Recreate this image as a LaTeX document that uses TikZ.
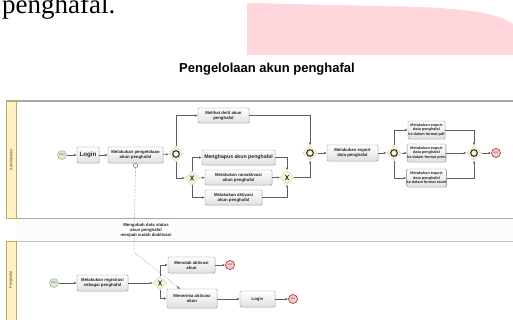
\documentclass[tikz,border=0pt]{standalone}
\usepackage{fontspec}
\setmainfont{Liberation Sans}
\newfontfamily\seriffam{Liberation Serif}
\usetikzlibrary{shapes.geometric,arrows.meta,shadows,calc}

\definecolor{lnc}{HTML}{5E5E5E}
\definecolor{boxb}{HTML}{8C8C8C}
\definecolor{hdrfill}{HTML}{FFF1C2}
\definecolor{hdrline}{HTML}{BFA866}
\definecolor{pinkbg}{HTML}{FFD6DB}
\definecolor{gwfill}{HTML}{F7F2DA}
\definecolor{gwline}{HTML}{D8CEA2}
\definecolor{startfill}{HTML}{DDEBD3}
\definecolor{startline}{HTML}{8FA88A}
\definecolor{endfill}{HTML}{F6C9CB}
\definecolor{endline}{HTML}{B0404A}
\definecolor{poolline}{HTML}{A8A8A8}

\begin{document}
\begin{tikzpicture}[x=1pt,y=-1pt,
  task/.style={draw=boxb, line width=0.4pt, rounded corners=1.2pt, top color=white, bottom color=gray!24,
    drop shadow={opacity=0.25,shadow xshift=0.7pt,shadow yshift=-0.7pt},
    align=center, inner sep=0pt, text=black!85, font=\fontsize{4.3}{5}\selectfont\bfseries},
  bigtask/.style={task, font=\fontsize{5.2}{6}\selectfont\bfseries},
  smalltask/.style={task, font=\fontsize{3.8}{4.6}\selectfont\bfseries},
  gwO/.style={diamond, draw=gwline, fill=gwfill, line width=0.3pt, minimum size=15pt, inner sep=0pt,
    path picture={\draw[line width=1.1pt, black!80] (path picture bounding box.center) circle (3.3);}},
  gwX/.style={diamond, draw=gwline, fill=gwfill, line width=0.3pt, minimum size=14pt, inner sep=0pt,
    path picture={\draw[line width=0.8pt, black!80]
      ([shift={(-1.6pt,-2.4pt)}]path picture bounding box.center) -- ([shift={(1.6pt,2.4pt)}]path picture bounding box.center)
      ([shift={(-1.6pt,2.4pt)}]path picture bounding box.center) -- ([shift={(1.6pt,-2.4pt)}]path picture bounding box.center);}},
  startev/.style={circle, draw=startline, fill=startfill, line width=0.4pt, minimum size=9pt, inner sep=0pt,
    font=\fontsize{2.4}{3}\selectfont, text=black!70},
  endev/.style={circle, draw=endline, fill=endfill, line width=0.7pt, minimum size=9pt, inner sep=0pt,
    font=\fontsize{2.4}{3}\selectfont, text=black!70},
  flow/.style={draw=lnc, line width=0.45pt, -{Latex[length=2.6pt,width=2.2pt]}},
  msg/.style={draw=lnc, line width=0.4pt, densely dotted},
  lanelbl/.style={rotate=90, font=\fontsize{3.6}{4}\selectfont, text=black!80},
]
\useasboundingbox (0,0) rectangle (513,320);

% --- top page fragments ---
\fill[pinkbg] (247,3) -- (420,7) .. controls (470,9) and (500,14) .. (513,24) -- (513,55) -- (247,55) -- cycle;
\node[anchor=base west, inner sep=0pt, font=\seriffam\fontsize{27}{27}\selectfont] (frag) at (2,14) {penghafal.};

% --- title ---
\node[font=\fontsize{13}{14}\selectfont\bfseries] (title) at (267,69) {Pengelolaan akun penghafal};

% --- pools ---
\fill[gray!3] (16,218) rectangle (515,241);
\draw[poolline, line width=0.5pt, fill=white] (6,101) rectangle (515,218);
\draw[poolline, line width=1pt] (6,101) -- (515,101);
\draw[hdrline, fill=hdrfill, line width=0.5pt] (6,101) rectangle (16,218);
\node[lanelbl] (lane1) at (11,159.5) {Administrator};

\draw[poolline!70, line width=0.5pt, fill=white] (6,241) rectangle (515,322);
\draw[hdrline, fill=hdrfill, line width=0.5pt] (6,241) rectangle (16,322);
\node[lanelbl] (lane2) at (11,280) {Penghafal};

% --- pool 1 nodes ---
\node[startev] (s1) at (62,155) {Start};
\node[bigtask, minimum width=22pt, minimum height=16pt, font=\fontsize{6.2}{7}\selectfont\bfseries] (login1) at (88,155) {Login};
\node[task, minimum width=55pt, minimum height=16pt] (kelola) at (135.5,155) {Melakukan pengelolaan\\akun penghafal};
\node[gwO] (g1) at (176,154) {};
\node[task, minimum width=51pt, minimum height=15pt] (detil) at (223.5,115.5) {Melihat detil akun\\penghafal};
\node[gwX] (gx1) at (192,178) {};
\node[bigtask, minimum width=73pt, minimum height=15pt] (hapus) at (238.5,157.5) {Menghapus akun penghafal};
\node[task, minimum width=67pt, minimum height=15pt] (nonakt) at (238.5,177.5) {Melakukan nonaktivasi\\akun penghafal};
\node[task, minimum width=57pt, minimum height=15pt] (akt) at (233.5,197.5) {Melakukan aktivasi\\akun penghafal};
\node[gwX] (gx2) at (287,177.5) {};
\node[gwO] (g2) at (310,153) {};
\node[task, minimum width=51pt, minimum height=16pt] (export) at (352.5,153) {Melakukan export\\data penghafal};
\node[gwO] (g3) at (394,153) {};
\node[smalltask, minimum width=37pt, minimum height=18pt] (pdf) at (426.5,130) {Melakukan export\\data penghafal\\ke dalam format pdf};
\node[smalltask, minimum width=37pt, minimum height=18pt] (print) at (426.5,153) {Melakukan export\\data penghafal\\ke dalam format print};
\node[smalltask, minimum width=37pt, minimum height=18pt] (excel) at (426.5,178) {Melakukan export\\data penghafal\\ke dalam format excel};
\node[gwO] (g4) at (474,153) {};
\node[endev] (e1) at (496,153) {End};

% --- pool 1 flows ---
\draw[flow] (s1) -- (login1);
\draw[flow] (login1) -- (kelola);
\draw[flow] (kelola) -- (g1);
\draw[flow] (g1.north) |- (detil.west);
\draw[flow] (g1.south) |- (gx1.west);
\draw[flow] (gx1.north) |- (hapus.west);
\draw[flow] (gx1.east) -- (nonakt.west);
\draw[flow] (gx1.south) |- (akt.west);
\draw[flow] (hapus.east) -| (gx2.north);
\draw[flow] (nonakt.east) -- (gx2.west);
\draw[flow] (akt.east) -| (gx2.south);
\draw[flow] (gx2.east) -| (g2.south);
\draw[flow] (detil.east) -| (g2.north);
\draw[flow] (g2) -- (export);
\draw[flow] (export) -- (g3);
\draw[flow] (g3.north) |- (pdf.west);
\draw[flow] (g3.east) -- (print.west);
\draw[flow] (g3.south) |- (excel.west);
\draw[flow] (pdf.east) -| (g4.north);
\draw[flow] (print.east) -- (g4.west);
\draw[flow] (excel.east) -| (g4.south);
\draw[flow] (g4) -- (e1);

% --- pool 2 nodes ---
\node[startev] (s2) at (54,283) {Start};
\node[task, minimum width=51pt, minimum height=16pt] (reg) at (102.5,283) {Melakukan registrasi\\sebagai penghafal};
\node[gwX] (gx3) at (160,283) {};
\node[task, minimum width=47pt, minimum height=16pt] (tolak) at (191.5,265) {Menolak aktivasi\\akun};
\node[endev] (e2) at (230,265) {End};
\node[task, minimum width=50pt, minimum height=19pt] (terima) at (192,298.5) {Menerima aktivasi\\akun};
\node[task, minimum width=35pt, minimum height=16pt] (login2) at (257.5,299) {Login};
\node[endev] (e3) at (293,299) {End};

% --- pool 2 flows ---
\draw[flow] (s2) -- (reg);
\draw[flow] (reg) -- (gx3);
\draw[flow] (gx3.north) |- (tolak.west);
\draw[flow] (gx3.south) |- (terima.west);
\draw[flow] (tolak) -- (e2);
\draw[flow] (terima.east |- login2.west) -- (login2.west);
\draw[flow] (login2) -- (e3);

% --- message flow with annotation ---
\coordinate (mbend) at (134,252);
\coordinate (mend) at ([xshift=13pt]terima.north west);
\draw[msg] ([yshift=-2.4pt]kelola.south) -- (mbend) -- (mend);
\draw[lnc, line width=0.4pt, fill=white] ([yshift=-2.4pt]kelola.south) circle (2.2);
\draw[lnc, line width=0.4pt, -{Triangle[open,length=2.6pt,width=2.2pt]}] ($(mbend)!0.93!(mend)$) -- (mend);
\node[fill=white, inner sep=0.5pt, align=center, font=\fontsize{4.3}{5}\selectfont\bfseries, text=black!85] (note) at (146,230) {Mengubah data status\\akun penghafal\\menjadi sudah diaktivasi};

\end{tikzpicture}
\end{document}
